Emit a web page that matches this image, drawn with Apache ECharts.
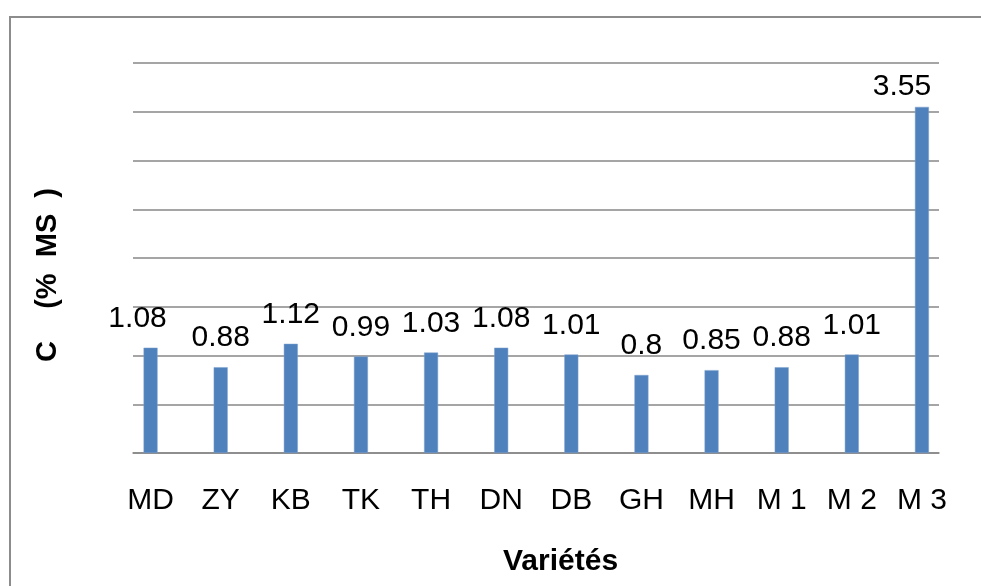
<!DOCTYPE html>
<html>
<head>
<meta charset="utf-8">
<script src="https://cdn.jsdelivr.net/npm/echarts@6/dist/echarts.min.js"></script>
<style>
  html, body { margin: 0; padding: 0; background: #fff; }
  #chart { width: 981px; height: 586px; }
</style>
</head>
<body>
<div id="chart"></div>
<script>
// Carbon content per variety (% dry matter)
const varieties = ['MD', 'ZY', 'KB', 'TK', 'TH', 'DN', 'DB', 'GH', 'MH', 'M 1', 'M 2', 'M 3'];
const carbonValues = [1.08, 0.88, 1.12, 0.99, 1.03, 1.08, 1.01, 0.8, 0.85, 0.88, 1.01, 3.55];
const yTicks = [0, 0.5, 1, 1.5, 2, 2.5, 3, 3.5, 4];

const yMin = yTicks[0];
const yMax = yTicks[yTicks.length - 1];
const yStep = yTicks[1] - yTicks[0];

const font = '"Liberation Sans", Arial, sans-serif';

// the outermost labels are nudged to stay inside the plot frame
const barData = carbonValues.map((v, i) => {
  if (i === 0) return { value: v, label: { offset: [-13, 0] } };
  if (i === carbonValues.length - 1) return { value: v, label: { offset: [-20, 9] } };
  return v;
});

const chart = echarts.init(document.getElementById('chart'), null, { renderer: 'canvas' });

chart.setOption({
  backgroundColor: '#ffffff',
  animation: false,
  grid: [
    // frame carrying the horizontal gridlines
    { left: 133, right: 42, top: 63, bottom: 133 },
    // frame carrying the bars
    { left: 115.5, right: 24, top: 63, bottom: 133 }
  ],
  xAxis: [
    {
      gridIndex: 0, type: 'category', data: varieties,
      axisLine: { show: true, lineStyle: { color: '#878787', width: 1.5 } },
      axisTick: { show: false }, axisLabel: { show: false }, splitLine: { show: false }
    },
    {
      gridIndex: 1, type: 'category', data: varieties,
      axisLine: { show: false }, axisTick: { show: false },
      axisLabel: { color: '#000', fontFamily: font, fontSize: 30, margin: 33 }
    }
  ],
  yAxis: [
    {
      gridIndex: 0, type: 'value', min: yMin, max: yMax, interval: yStep,
      axisLine: { show: false }, axisTick: { show: false }, axisLabel: { show: false },
      splitLine: { show: true, lineStyle: { color: '#878787', width: 1.5 } }
    },
    {
      gridIndex: 1, type: 'value', min: yMin, max: yMax, interval: yStep,
      axisLine: { show: false }, axisTick: { show: false }, axisLabel: { show: false },
      splitLine: { show: false }
    }
  ],
  series: [{
    type: 'bar',
    xAxisIndex: 1, yAxisIndex: 1,
    data: barData,
    barWidth: 14,
    itemStyle: { color: '#4F81BD', borderColor: '#7FA3CF', borderWidth: 0.5 },
    label: {
      show: true, position: 'top', distance: 14,
      color: '#000', fontFamily: font, fontSize: 30
    }
  }],
  graphic: [
    {
      type: 'rect', silent: true, z: -1,
      shape: { x: 10, y: 17, width: 1000, height: 600 },
      style: { fill: 'none', stroke: '#8c8c8c', lineWidth: 2 }
    },
    {
      type: 'text', left: 503, top: 547,
      style: { text: 'Variétés', fill: '#000', font: 'bold 30px ' + font }
    },
    {
      type: 'text', x: 48, y: 275, rotation: Math.PI / 2,
      style: {
        text: 'C    (%  MS  )', fill: '#000', font: 'bold 29px ' + font,
        textAlign: 'center', textVerticalAlign: 'middle'
      }
    }
  ]
});
</script>
</body>
</html>
